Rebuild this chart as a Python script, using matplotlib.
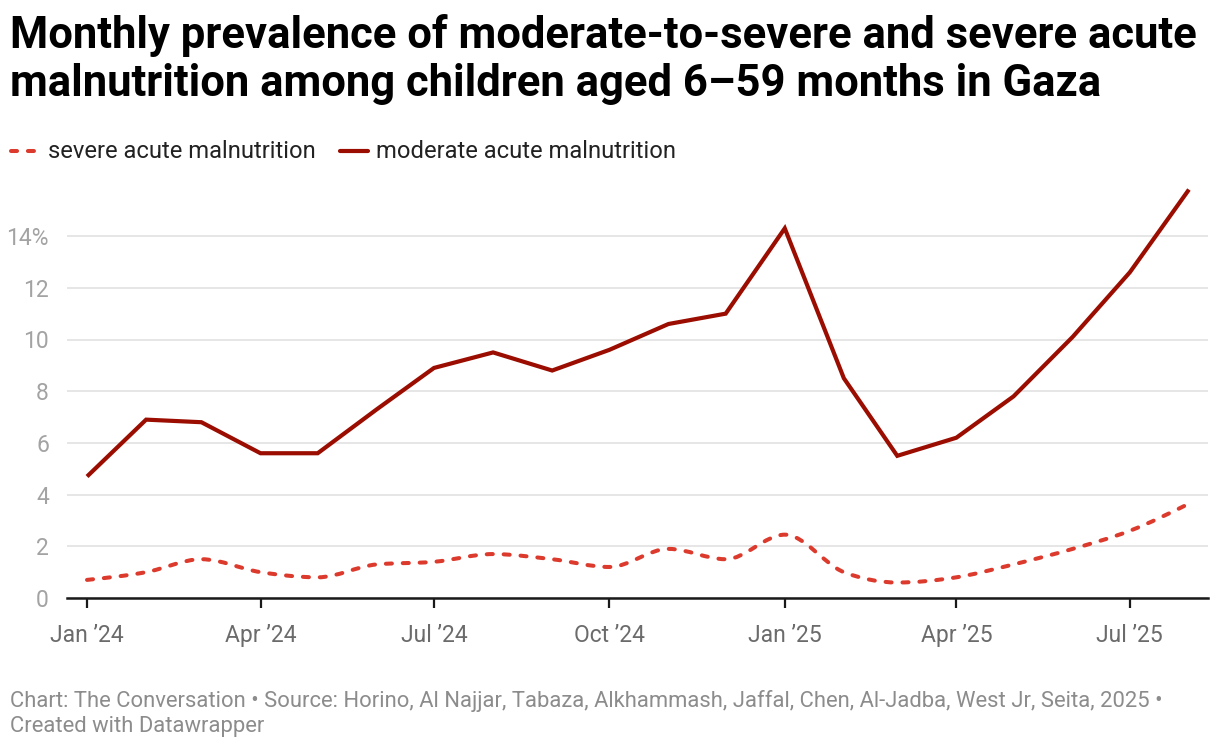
import matplotlib.pyplot as plt
import matplotlib.dates as mdates
from matplotlib.path import Path
from matplotlib.patches import PathPatch
from matplotlib.lines import Line2D
import numpy as np

plt.rcParams['font.family'] = ['Roboto', 'DejaVu Sans']

# data (percent)
months = ['2024-01', '2024-02', '2024-03', '2024-04', '2024-05', '2024-06',
          '2024-07', '2024-08', '2024-09', '2024-10', '2024-11', '2024-12',
          '2025-01', '2025-02', '2025-03', '2025-04', '2025-05', '2025-06',
          '2025-07', '2025-08']
severe = [0.7, 1.0, 1.5, 1.0, 0.8, 1.3, 1.4, 1.7, 1.5, 1.2, 1.9, 1.5,
          2.45, 1.0, 0.6, 0.8, 1.3, 1.9, 2.6, 3.65]
moderate = [4.7, 6.9, 6.8, 5.6, 5.6, 7.3, 8.9, 9.5, 8.8, 9.6, 10.6, 11.0,
            14.3, 8.5, 5.5, 6.2, 7.8, 10.1, 12.6, 15.8]

tick_months = ['2024-01', '2024-04', '2024-07', '2024-10', '2025-01', '2025-04', '2025-07']
tick_labels = ['Jan ’24', 'Apr ’24', 'Jul ’24', 'Oct ’24', 'Jan ’25', 'Apr ’25', 'Jul ’25']
y_ticks = [0, 2, 4, 6, 8, 10, 12, 14]
y_labels = ['0', '2', '4', '6', '8', '10', '12', '14%']

title = ('Monthly prevalence of moderate-to-severe and severe acute\n'
         'malnutrition among children aged 6–59 months in Gaza')
footer = ('Chart: The Conversation • Source: Horino, Al Najjar, Tabaza, Alkhammash, Jaffal, '
          'Chen, Al-Jadba, West Jr, Seita, 2025 •\nCreated with Datawrapper')

SEVERE_C = '#dc3a2c'
MODERATE_C = '#9a0d00'
DASH = (0, (1.5, 2.7))


def to_num(ms):
    return mdates.date2num(np.array(ms, dtype='datetime64[M]').astype('datetime64[D]'))


def monotone_path(x, y):
    # monotone cubic (like d3 curveMonotoneX) as bezier segments
    x = np.asarray(x, float)
    y = np.asarray(y, float)
    h = np.diff(x)
    s = np.diff(y) / h
    m = np.zeros_like(y)
    for i in range(1, len(y) - 1):
        if s[i - 1] * s[i] <= 0:
            m[i] = 0
        else:
            p = (s[i - 1] * h[i] + s[i] * h[i - 1]) / (h[i - 1] + h[i])
            m[i] = np.sign(s[i]) * min(abs(s[i - 1]), abs(s[i]), 0.5 * abs(p)) * 2
    m[0] = (3 * s[0] - m[1]) / 2
    m[-1] = (3 * s[-1] - m[-2]) / 2
    verts = [(x[0], y[0])]
    codes = [Path.MOVETO]
    for i in range(len(x) - 1):
        d = h[i] / 3
        verts += [(x[i] + d, y[i] + m[i] * d), (x[i + 1] - d, y[i + 1] - m[i + 1] * d),
                  (x[i + 1], y[i + 1])]
        codes += [Path.CURVE4] * 3
    return Path(verts, codes)


x = to_num(months)

fig = plt.figure(figsize=(12.2, 7.5), dpi=100)
ax = fig.add_axes([67 / 1220, 1 - 598 / 750, (1208 - 67) / 1220, (598 - 184.4) / 750])

ax.plot(x, moderate, color=MODERATE_C, lw=3.0, solid_joinstyle='miter',
        solid_capstyle='butt', zorder=3)
patch = PathPatch(monotone_path(x, severe), facecolor='none', edgecolor=SEVERE_C,
                  lw=2.9, linestyle=DASH, capstyle='round', zorder=3)
ax.add_patch(patch)

x0 = to_num(['2024-01'])[0]
ax.set_xlim(x0 - 10.5, x0 + 588)
ax.set_ylim(0, 16)

ax.set_yticks(y_ticks)
ax.set_yticklabels(y_labels)
ax.set_xticks(to_num(tick_months))
ax.set_xticklabels(tick_labels)

ax.grid(axis='y', color='#e4e4e4', lw=1.3)
ax.set_axisbelow(True)
for side in ['top', 'right', 'left']:
    ax.spines[side].set_visible(False)
ax.spines['bottom'].set_color('#1a1a1a')
ax.spines['bottom'].set_linewidth(1.8)
ax.spines['bottom'].set_zorder(4)
ax.tick_params(axis='y', length=0, pad=13, labelsize=16.5, labelcolor='#a3a3a3')
ax.tick_params(axis='x', length=7, width=1.6, color='#1a1a1a', pad=12,
               labelsize=16.5, labelcolor='#6b6b6b')

fig.text(10 / 1220, 1 - 14 / 750, title, fontsize=31.4, weight='bold', va='top',
         ha='left', linespacing=1.18, color='#000000')

# legend
ly = 1 - 151 / 750
fig.add_artist(Line2D([11 / 1220, 37 / 1220], [ly, ly], color=SEVERE_C, lw=2.9,
                      linestyle=DASH, dash_capstyle='round'))
fig.text(48 / 1220, ly, 'severe acute malnutrition', fontsize=17.1, va='center',
         ha='left', color='#222222')
fig.add_artist(Line2D([340 / 1220, 368 / 1220], [ly, ly], color=MODERATE_C, lw=3.0,
                      solid_capstyle='round'))
fig.text(376 / 1220, ly, 'moderate acute malnutrition', fontsize=17.1, va='center',
         ha='left', color='#222222')

fig.text(10 / 1220, 1 - 690 / 750, footer, fontsize=15.8, va='top', ha='left',
         color='#8c8c8c', linespacing=1.25)

fig.savefig('out.png', dpi=100)
